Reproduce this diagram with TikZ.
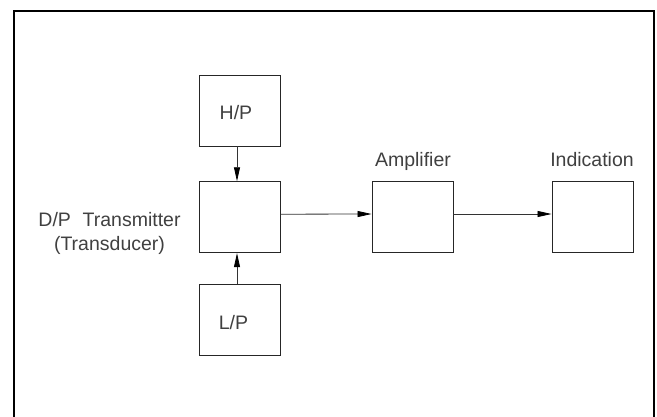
\documentclass[tikz,border=0pt]{standalone}
\usepackage{fontspec}
\setmainfont{Liberation Sans}
\usetikzlibrary{arrows.meta}
\begin{document}
\begin{tikzpicture}[x=1pt,y=-1pt,
  blk/.style={draw=black!85,line width=0.9pt,minimum width=81pt,minimum height=71pt,inner sep=0pt},
  lbl/.style={text=black!75,font=\fontsize{19.5}{24}\selectfont,inner sep=0pt,anchor=base},
  arr/.style={draw=black!80,line width=0.8pt,-{Triangle[length=14pt,width=6pt,fill=black,color=black]}}]
\useasboundingbox (0,0) rectangle (657,416);
\draw[line width=2pt] (14,417) -- (14,11) -- (654,11) -- (654,417);
\node[blk] (hp) at (239.5,110.5) {};
\node[blk] (dp) at (239.5,217.2) {};
\node[blk] (lp) at (239.5,320.3) {};
\node[blk] (amp) at (412.5,217) {};
\node[blk] (ind) at (592.5,217) {};
\node[lbl] (hpt) at (236,119) {H/P};
\node[lbl] (lpt) at (233.5,329) {L/P};
\node[lbl] (ampt) at (413,166.7) {Amplifier};
\node[lbl] (indt) at (592,166.7) {Indication};
\node[lbl] (dpt1) at (109.5,226) {D/P\hspace{0.6em}Transmitter};
\node[lbl] (dpt2) at (109.5,250.7) {(Transducer)};
\draw[arr] ([xshift=-2.5pt]hp.south) -- ([xshift=-2.5pt]dp.north);
\draw[arr] ([xshift=-2.5pt]lp.north) -- ([xshift=-2.5pt]dp.south);
\draw[arr] ([yshift=3pt]dp.east) -- ([yshift=3pt]amp.west);
\draw[arr] ([yshift=3pt]amp.east) -- ([yshift=3pt]ind.west);
\end{tikzpicture}
\end{document}
